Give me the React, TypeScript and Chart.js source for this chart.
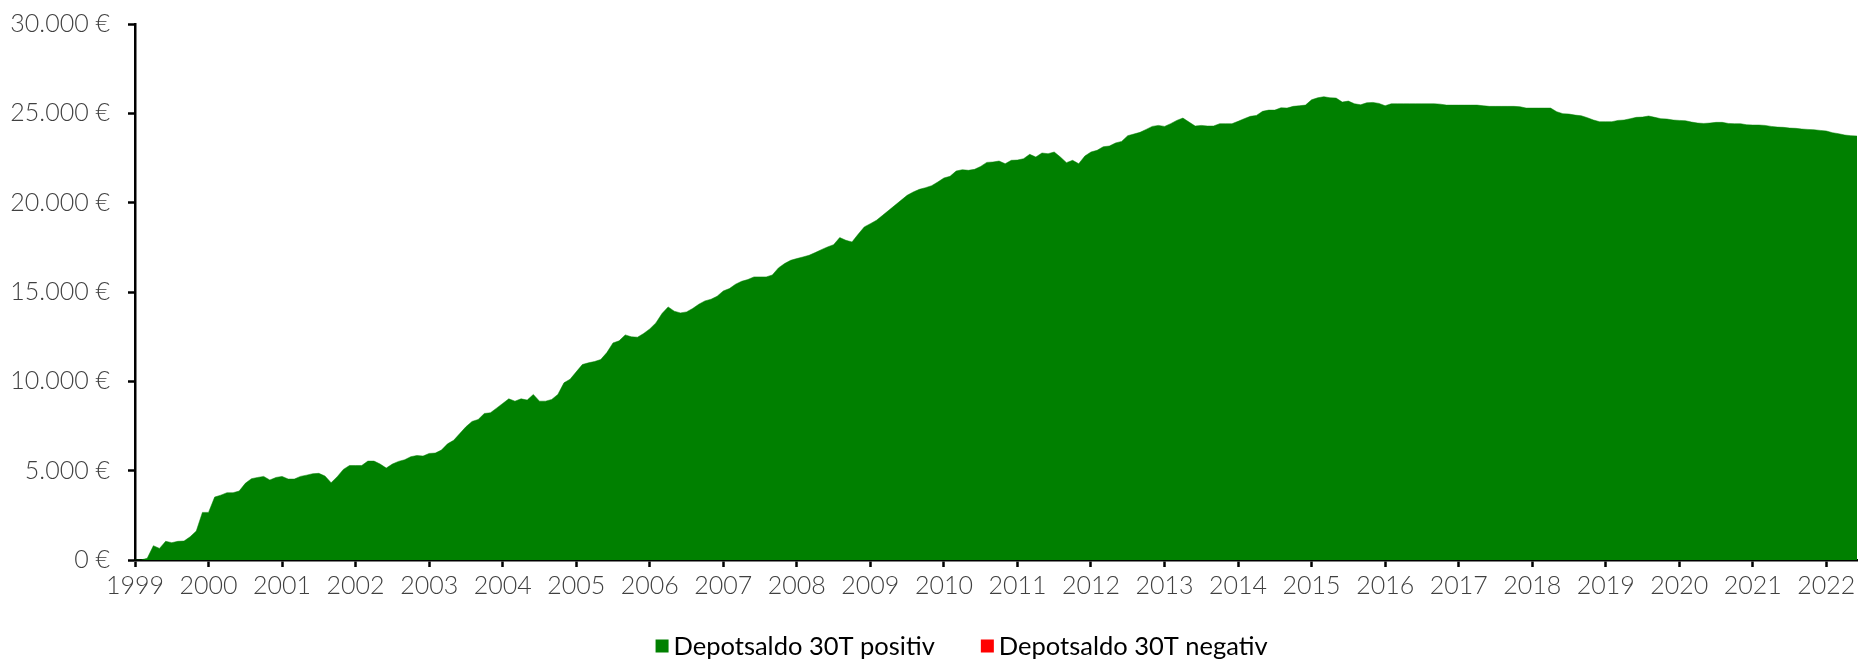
import React, { useEffect, useRef } from 'react';
import { Chart, registerables } from 'chart.js';

Chart.register(...registerables);

// Tick labels (one per January)
const yearLabels = [
  '1999', '2000', '2001', '2002', '2003', '2004', '2005', '2006',
  '2007', '2008', '2009', '2010', '2011', '2012', '2013', '2014',
  '2015', '2016', '2017', '2018', '2019', '2020', '2021', '2022',
];

const seriesNames = ['Depotsaldo 30T positiv', 'Depotsaldo 30T negativ'];
const seriesColors = ['#008000', '#FF0000'];

// Monthly depot balance (€), Jan 1999 – Jun 2022
const positiveValues = [
  0, 0, 100, 800, 650, 1045, 970, 1045, 1060, 1300, 1620, 2665, // 1999
  2665, 3520, 3630, 3765, 3765, 3860, 4290, 4550, 4620, 4680, 4475, 4620, // 2000
  4680, 4530, 4530, 4680, 4750, 4830, 4850, 4700, 4325, 4660, 5070, 5290, // 2001
  5290, 5290, 5535, 5535, 5370, 5145, 5370, 5520, 5610, 5780, 5850, 5815, // 2002
  5965, 5985, 6150, 6500, 6700, 7080, 7455, 7755, 7865, 8200, 8240, 8500, // 2003
  8760, 9020, 8890, 9020, 8950, 9265, 8890, 8890, 8985, 9265, 9915, 10120, // 2004
  10530, 10940, 11035, 11110, 11220, 11610, 12150, 12265, 12600, 12490, 12470, 12675, // 2005
  12935, 13270, 13795, 14165, 13925, 13830, 13885, 14075, 14315, 14500, 14595, 14765, // 2006
  15060, 15190, 15435, 15600, 15695, 15845, 15845, 15845, 15950, 16350, 16590, 16775, // 2007
  16870, 16960, 17055, 17205, 17370, 17520, 17650, 18045, 17895, 17800, 18230, 18640, // 2008
  18825, 19015, 19290, 19570, 19850, 20130, 20410, 20600, 20745, 20840, 20950, 21155, // 2009
  21380, 21475, 21770, 21845, 21810, 21865, 22030, 22255, 22275, 22330, 22180, 22370, // 2010
  22385, 22460, 22705, 22555, 22780, 22740, 22835, 22555, 22240, 22370, 22180, 22610, // 2011
  22835, 22930, 23130, 23170, 23340, 23430, 23750, 23840, 23935, 24100, 24270, 24325, // 2012
  24270, 24420, 24605, 24735, 24510, 24290, 24325, 24290, 24290, 24420, 24420, 24420, // 2013
  24550, 24700, 24830, 24885, 25110, 25180, 25180, 25310, 25295, 25390, 25425, 25460, // 2014
  25760, 25870, 25930, 25870, 25855, 25630, 25685, 25535, 25480, 25590, 25610, 25555, // 2015
  25425, 25535, 25535, 25535, 25535, 25535, 25535, 25535, 25535, 25515, 25460, 25460, // 2016
  25460, 25460, 25460, 25460, 25425, 25390, 25390, 25390, 25390, 25390, 25370, 25295, // 2017
  25295, 25295, 25295, 25295, 25090, 24980, 24960, 24900, 24865, 24755, 24625, 24530, // 2018
  24530, 24530, 24605, 24625, 24700, 24775, 24790, 24850, 24775, 24700, 24680, 24625, // 2019
  24605, 24585, 24510, 24455, 24435, 24455, 24495, 24495, 24435, 24420, 24420, 24360, // 2020
  24345, 24345, 24325, 24270, 24230, 24215, 24175, 24160, 24120, 24100, 24080, 24045, // 2021
  24010, 23915, 23860, 23785, 23750, 23730, // 2022
];

// No negative periods in this chart
const negativeValues: number[] = [];

const yMax = 30000;
const yStep = 5000;

const formatEuro = (v: number) =>
  String(Math.round(v)).replace(/\B(?=(\d{3})+(?!\d))/g, '.') + ' €';

const axisFont = { family: 'Lato', size: 25, weight: '300' as any };

const bottomLegend = {
  id: 'bottomLegend',
  afterDraw(chart: any) {
    const ctx = chart.ctx as CanvasRenderingContext2D;
    ctx.save();
    ctx.font = '400 25.5px Lato';
    ctx.textBaseline = 'middle';
    ctx.textAlign = 'left';
    const box = 13;
    const gapText = 5;
    const gapItem = 46;
    const items = chart.data.datasets.map((ds: any) => ({
      text: ds.label as string,
      color: ds.backgroundColor as string,
    }));
    const widths = items.map((it: any) => box + gapText + ctx.measureText(it.text).width);
    const total = widths.reduce((a: number, b: number) => a + b, 0) + gapItem * (items.length - 1);
    let x = chart.width * 0.517 - total / 2;
    const cy = chart.height - 14;
    items.forEach((it: any, i: number) => {
      ctx.fillStyle = it.color;
      ctx.fillRect(x, cy - box / 2, box, box);
      ctx.fillStyle = '#000000';
      ctx.fillText(it.text, x + box + gapText, cy + 1);
      x += widths[i] + gapItem;
    });
    ctx.restore();
  },
};

export default function App() {
  const canvasRef = useRef<HTMLCanvasElement | null>(null);

  useEffect(() => {
    if (!canvasRef.current) return;
    const chart = new Chart(canvasRef.current, {
      type: 'line',
      data: {
        datasets: [
          {
            label: seriesNames[0],
            data: positiveValues.map((v, i) => ({ x: i, y: v })),
            fill: 'origin',
            backgroundColor: seriesColors[0],
            borderColor: seriesColors[0],
            borderWidth: 0.5,
            pointRadius: 0,
            tension: 0,
          },
          {
            label: seriesNames[1],
            data: negativeValues.map((v, i) => ({ x: i, y: v })),
            fill: 'origin',
            backgroundColor: seriesColors[1],
            borderColor: seriesColors[1],
            borderWidth: 0,
            pointRadius: 0,
            tension: 0,
          },
        ],
      },
      options: {
        responsive: false,
        animation: false,
        events: [],
        layout: { padding: { top: 24, right: 3, bottom: 60, left: 0 } },
        plugins: {
          legend: { display: false },
          tooltip: { enabled: false },
        },
        scales: {
          x: {
            type: 'linear',
            min: 0,
            max: positiveValues.length - 1,
            afterBuildTicks: (s: any) => {
              s.ticks = yearLabels.map((_, i) => ({ value: i * 12 }));
            },
            afterFit: (s: any) => {
              s.height = 40;
              s.paddingTop = 0;
              s.paddingBottom = 0;
            },
            ticks: {
              autoSkip: false,
              maxRotation: 0,
              padding: 4,
              color: '#404040',
              font: axisFont,
              callback: (v: any) => yearLabels[Math.round(Number(v) / 12)],
            },
            grid: {
              display: true,
              drawOnChartArea: false,
              drawTicks: true,
              tickLength: 7,
              tickColor: '#000000',
              tickWidth: 2.5,
            },
            border: { display: true, color: '#000000', width: 2.5 },
          },
          y: {
            min: 0,
            max: yMax,
            afterFit: (s: any) => {
              s.width = 135;
              s.paddingTop = 0;
              s.paddingBottom = 0;
            },
            ticks: {
              stepSize: yStep,
              padding: 18,
              color: '#404040',
              font: axisFont,
              callback: (v: any) => formatEuro(Number(v)),
            },
            grid: {
              display: true,
              drawOnChartArea: false,
              drawTicks: true,
              tickLength: 7,
              tickColor: '#000000',
              tickWidth: 2.5,
            },
            border: { display: true, color: '#000000', width: 2.5 },
          },
        },
      },
      plugins: [bottomLegend],
    });
    return () => chart.destroy();
  }, []);

  return (
    <div style={{ position: 'fixed', left: 0, top: 0, width: 1860, height: 660, background: '#ffffff' }}>
      <canvas ref={canvasRef} width={1860} height={660} style={{ display: 'block' }} />
    </div>
  );
}
